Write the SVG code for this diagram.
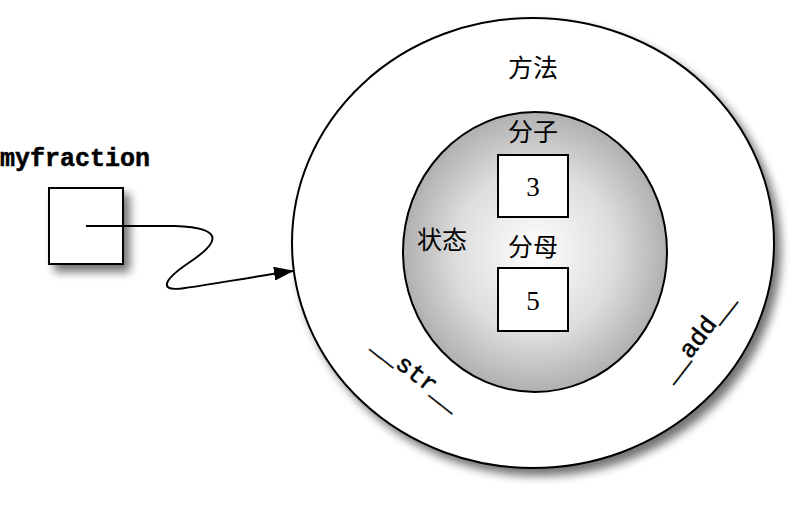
<svg xmlns="http://www.w3.org/2000/svg" width="800" height="505" viewBox="0 0 800 505">
<defs>
<filter id="sh" x="-20%" y="-20%" width="150%" height="150%"><feGaussianBlur in="SourceAlpha" stdDeviation="5"/><feOffset dx="6" dy="7"/><feComponentTransfer><feFuncA type="linear" slope="0.55"/></feComponentTransfer><feMerge><feMergeNode/><feMergeNode in="SourceGraphic"/></feMerge></filter>
<radialGradient id="g" cx="0.5" cy="0.5" r="0.5"><stop offset="0" stop-color="#ffffff"/><stop offset="0.6" stop-color="#dddddd"/><stop offset="1" stop-color="#b0b0b0"/></radialGradient>
<marker id="ar" markerWidth="20" markerHeight="14" refX="19" refY="7" orient="auto" markerUnits="userSpaceOnUse"><path d="M0,0 L20,7 L0,14 Z" fill="#000"/></marker>
<style>.s{stroke:#000;stroke-width:2}.cj{font-family:"Noto Sans CJK SC",sans-serif;font-size:25px}.n{font-family:"Liberation Serif",serif;font-size:27px}.m{font-family:"Liberation Mono",monospace;font-size:25px;stroke:#000;stroke-width:0.5}</style>
</defs>
<g id="outer"><ellipse cx="533" cy="243" rx="241" ry="225" fill="#fff" class="s" filter="url(#sh)"/><text x="533" y="77" text-anchor="middle" class="cj">方法</text></g>
<g id="inner"><ellipse cx="535" cy="252" rx="132" ry="140" fill="url(#g)" class="s"/><text x="442" y="249" text-anchor="middle" class="cj">状态</text></g>
<g id="num"><text x="533" y="141" text-anchor="middle" class="cj">分子</text><rect x="498" y="155" width="70" height="62" fill="#fff" class="s"/><text x="533" y="196" text-anchor="middle" class="n">3</text></g>
<g id="den"><text x="533" y="256" text-anchor="middle" class="cj">分母</text><rect x="498" y="268" width="70" height="63" fill="#fff" class="s"/><text x="533" y="310" text-anchor="middle" class="n">5</text></g>
<g id="str"><text transform="translate(412,380) rotate(38)" text-anchor="middle" class="m">__str__</text></g>
<g id="add"><text transform="translate(704,342) rotate(-52)" text-anchor="middle" class="m">__add__</text></g>
<g id="var"><text x="0" y="166" class="m" font-size="27" font-weight="bold" stroke-width="0">myfraction</text><rect x="49" y="188" width="74" height="76" fill="#fff" class="s" filter="url(#sh)"/></g>
<g id="connectors"><path d="M86,226 L175,226 C230,228 215,245 190,262 C160,282 160,292 185,288 C215,284 250,277 293,271" fill="none" stroke="#000" stroke-width="2" marker-end="url(#ar)"/></g>
</svg>
